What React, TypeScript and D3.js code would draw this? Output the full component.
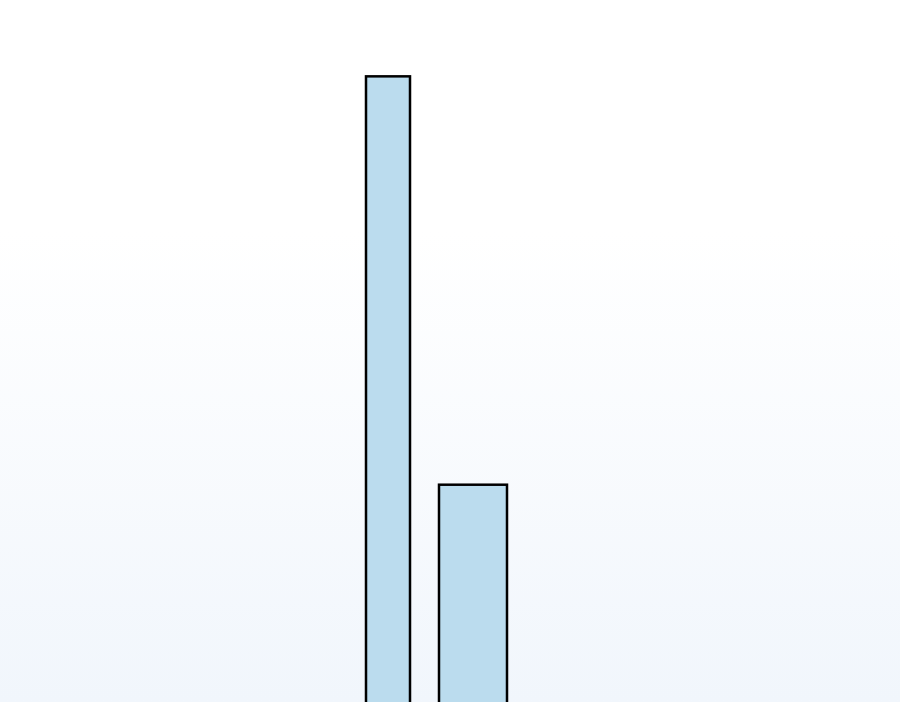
import React, { useEffect, useRef } from 'react';
import * as d3 from 'd3';

// bin edges and heights
const binStart = [36.6, 43.9];
const binEnd = [41.0, 50.7];
const values = [9.5, 4.79];

const App: React.FC = () => {
  const svgRef = useRef<SVGSVGElement | null>(null);

  useEffect(() => {
    const svg = d3.select(svgRef.current);
    svg.selectAll('*').remove();

    const width = 900;
    const height = 702;

    svg.attr('width', width).attr('height', height);

    const defs = svg.append('defs');
    const grad = defs
      .append('linearGradient')
      .attr('id', 'bg')
      .attr('x1', 0)
      .attr('y1', 0)
      .attr('x2', 0)
      .attr('y2', 1);
    grad.append('stop').attr('offset', '0%').attr('stop-color', '#ffffff');
    grad.append('stop').attr('offset', '33%').attr('stop-color', '#ffffff');
    grad.append('stop').attr('offset', '100%').attr('stop-color', '#f1f6fc');

    svg.append('rect').attr('width', width).attr('height', height).attr('fill', 'url(#bg)');

    const x = d3.scaleLinear().domain([0, 90]).range([0, width]);
    // baseline sits below the visible area
    const y = d3.scaleLinear().domain([0, 10]).range([900, 33]);

    svg
      .append('g')
      .selectAll('rect')
      .data(values)
      .join('rect')
      .attr('x', (_, i) => x(binStart[i]))
      .attr('width', (_, i) => x(binEnd[i]) - x(binStart[i]))
      .attr('y', (d) => y(d))
      .attr('height', (d) => y(0) - y(d))
      .attr('fill', '#bbdcee')
      .attr('stroke', '#000')
      .attr('stroke-width', 2.5);
  }, []);

  return (
    <svg
      ref={svgRef}
      style={{ position: 'absolute', top: 0, left: 0, display: 'block' }}
    ></svg>
  );
};

export default App;
